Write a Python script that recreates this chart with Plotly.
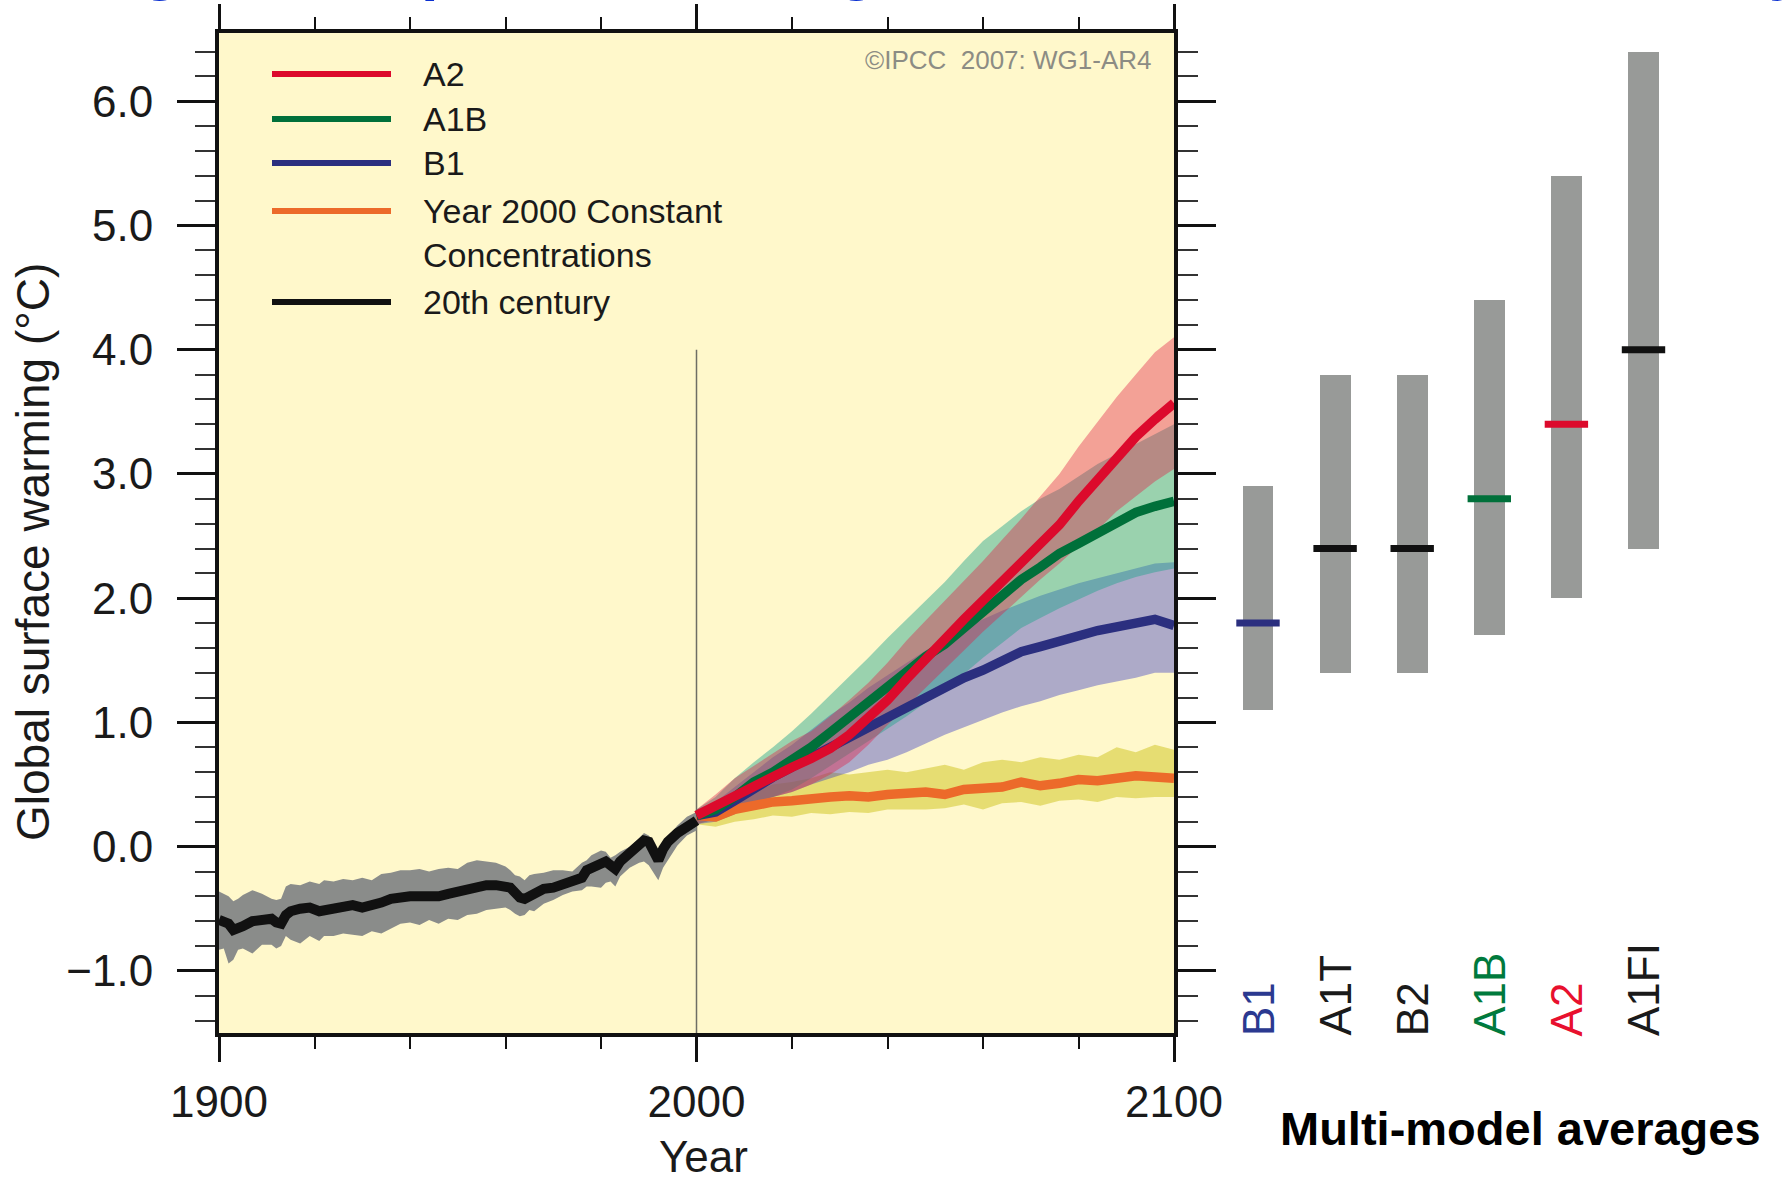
import plotly.graph_objects as go

# ---------------- data ----------------
years_20c = [1900,1901,1902,1903,1904,1905,1907,1909,1911,1912,1913,1914,1915,1917,1919,1921,1922,1924,1926,1928,
             1930,1932,1934,1936,1938,1940,1942,1944,1946,1948,1950,1952,1954,1956,1958,1960,1961,1962,1963,1964,
             1965,1966,1968,1970,1972,1974,1976,1977,1978,1980,1981,1982,1983,1984,1986,1988,1989,1990,1991,1992,
             1993,1994,1996,1998,2000]
mean_20c = [-0.59,-0.60,-0.62,-0.67,-0.66,-0.64,-0.60,-0.58,-0.58,-0.61,
            -0.62,-0.55,-0.52,-0.50,-0.49,-0.52,-0.51,-0.49,-0.47,-0.47,
            -0.49,-0.48,-0.45,-0.42,-0.40,-0.40,-0.40,-0.41,-0.40,-0.38,
            -0.36,-0.34,-0.32,-0.31,-0.31,-0.32,-0.33,-0.37,-0.41,-0.42,
            -0.40,-0.36,-0.34,-0.33,-0.31,-0.28,-0.25,-0.19,-0.17,-0.13,
            -0.12,-0.15,-0.18,-0.12,-0.05,0.02,0.05,0.04,-0.05,-0.11,
            -0.02,0.04,0.11,0.17,0.21]
upper_20c = [-0.36,-0.38,-0.40,-0.44,-0.42,-0.39,-0.35,-0.38,-0.42,-0.43,
             -0.42,-0.32,-0.30,-0.31,-0.28,-0.30,-0.27,-0.28,-0.26,-0.27,
             -0.25,-0.27,-0.22,-0.21,-0.19,-0.19,-0.18,-0.20,-0.18,-0.17,
             -0.18,-0.13,-0.11,-0.12,-0.13,-0.16,-0.19,-0.23,-0.24,-0.27,
             -0.23,-0.22,-0.21,-0.19,-0.19,-0.20,-0.13,-0.11,-0.07,-0.03,
             -0.04,-0.09,-0.07,-0.04,0.00,0.07,0.11,0.09,0.04,-0.04,
             0.03,0.08,0.17,0.24,0.28]
lower_20c = [-0.83,-0.82,-0.94,-0.91,-0.83,-0.82,-0.86,-0.79,-0.79,-0.82,
             -0.80,-0.72,-0.75,-0.78,-0.72,-0.76,-0.72,-0.72,-0.70,-0.71,
             -0.72,-0.68,-0.70,-0.66,-0.62,-0.61,-0.63,-0.59,-0.62,-0.58,
             -0.59,-0.55,-0.54,-0.51,-0.50,-0.49,-0.51,-0.54,-0.56,-0.55,
             -0.51,-0.52,-0.46,-0.43,-0.39,-0.36,-0.35,-0.32,-0.32,-0.33,
             -0.29,-0.28,-0.32,-0.24,-0.17,-0.13,-0.12,-0.15,-0.21,-0.27,
             -0.17,-0.11,0.01,0.09,0.13]

years_proj = [2000,2004,2008,2012,2016,2020,2024,2028,2032,2036,2040,2044,2048,
              2052,2056,2060,2064,2068,2072,2076,2080,2084,2088,2092,2096,2100]

a2_mean  = [0.25,0.33,0.42,0.50,0.57,0.64,0.71,0.79,0.90,1.04,1.18,1.35,1.52,
            1.67,1.83,1.98,2.13,2.28,2.44,2.59,2.78,2.96,3.14,3.30,3.44,3.57]
a2_upper = [0.30,0.42,0.55,0.65,0.75,0.85,0.93,1.05,1.18,1.32,1.48,1.66,1.82,
            1.98,2.14,2.30,2.47,2.64,2.82,3.00,3.22,3.42,3.62,3.80,3.98,4.10]
a2_lower = [0.18,0.22,0.28,0.35,0.40,0.44,0.50,0.58,0.68,0.82,0.98,1.13,1.28,
            1.43,1.58,1.73,1.87,2.01,2.15,2.28,2.42,2.55,2.70,2.82,2.94,3.04]

a1b_mean  = [0.25,0.30,0.40,0.52,0.60,0.69,0.80,0.92,1.04,1.18,1.30,1.40,1.53,
             1.63,1.76,1.88,2.03,2.15,2.25,2.36,2.44,2.52,2.61,2.69,2.74,2.78]
a1b_upper = [0.30,0.40,0.55,0.68,0.80,0.93,1.07,1.22,1.37,1.52,1.68,1.83,1.98,
             2.13,2.30,2.46,2.58,2.70,2.80,2.88,2.98,3.08,3.16,3.24,3.32,3.40]
a1b_lower = [0.18,0.22,0.28,0.36,0.40,0.46,0.55,0.65,0.75,0.85,0.95,1.05,1.16,
             1.27,1.39,1.52,1.64,1.76,1.84,1.92,1.99,2.06,2.12,2.17,2.21,2.24]

b1_mean  = [0.25,0.28,0.37,0.47,0.56,0.64,0.72,0.80,0.87,0.95,1.03,1.11,1.21,
            1.28,1.36,1.42,1.49,1.57,1.61,1.66,1.70,1.74,1.77,1.80,1.83,1.78]
b1_upper = [0.30,0.36,0.48,0.60,0.72,0.82,0.94,1.06,1.16,1.28,1.38,1.48,1.58,
            1.67,1.75,1.83,1.90,1.96,2.02,2.07,2.12,2.16,2.20,2.24,2.28,2.29]
b1_lower = [0.18,0.20,0.26,0.33,0.40,0.44,0.50,0.55,0.60,0.66,0.70,0.76,0.83,
            0.90,0.96,1.02,1.08,1.13,1.17,1.22,1.26,1.30,1.33,1.36,1.40,1.40]

const_mean  = [0.25,0.24,0.30,0.33,0.36,0.37,0.39,0.40,0.41,0.40,0.42,0.43,0.44,
               0.42,0.46,0.47,0.48,0.52,0.49,0.51,0.54,0.53,0.55,0.57,0.56,0.55]
const_upper = [0.30,0.32,0.40,0.44,0.50,0.52,0.55,0.60,0.58,0.60,0.62,0.60,0.63,
               0.66,0.62,0.68,0.70,0.68,0.72,0.70,0.74,0.72,0.80,0.76,0.82,0.78]
const_lower = [0.18,0.16,0.20,0.22,0.25,0.24,0.27,0.26,0.28,0.27,0.30,0.30,0.30,
               0.31,0.34,0.30,0.35,0.36,0.33,0.37,0.38,0.36,0.40,0.39,0.40,0.40]

scenarios      = ["B1", "A1T", "B2", "A1B", "A2", "A1FI"]
scen_best      = [1.8, 2.4, 2.4, 2.8, 3.4, 4.0]
scen_low       = [1.1, 1.4, 1.4, 1.7, 2.0, 2.4]
scen_high      = [2.9, 3.8, 3.8, 4.4, 5.4, 6.4]
scen_colors    = ["#2B2F7F", "#111111", "#111111", "#00703A", "#DC0A2C", "#111111"]
scen_lbl_color = ["#2B3990", "#1a1a1a", "#1a1a1a", "#007A3D", "#E8102E", "#1a1a1a"]

legend_items = [("A2", "#DC0A2C"), ("A1B", "#00703A"), ("B1", "#2B2F7F"),
                ("Year 2000 Constant<br>Concentrations", "#EC6A2A"), ("20th century", "#111111")]

divider_year, divider_top = 2000, 4.0

# ---------------- layout geometry (pixels) ----------------
W, H = 1783, 1183
L, R, T, B = 219, 0, 33, 150
PW = W - L - R
PH = H - T - B
left_right_px = 1174
x1_dom = (left_right_px - L) / PW
p2_left_px = 1190
first_cat_px, cat_step_px = 1258, 77.1
x2_range = [(p2_left_px - first_cat_px) / cat_step_px, (W - R - first_cat_px) / cat_step_px]

FONT = "Liberation Sans, Arial, Helvetica, sans-serif"
TXT = "#1a1a1a"

def px_to_paper_x(px):
    return (px - L) / PW

def py_to_paper_y(py):
    return (T + PH - py) / PH

def px_to_dom_x(px):
    return (px - L) / (left_right_px - L)

fig = go.Figure()

def band(x, up, lo, color):
    fig.add_trace(go.Scatter(x=list(x) + list(x)[::-1], y=list(up) + list(lo)[::-1],
                             fill="toself", fillcolor=color, line=dict(width=0),
                             mode="lines", hoverinfo="skip", showlegend=False,
                             xaxis="x", yaxis="y"))

band(years_20c, upper_20c, lower_20c, "#8a8c8a")
band(years_proj, const_upper, const_lower, "rgba(215,205,60,0.62)")
band(years_proj, b1_upper, b1_lower, "rgba(50,53,195,0.40)")
band(years_proj, a1b_upper, a1b_lower, "rgba(30,165,140,0.45)")
band(years_proj, a2_upper, a2_lower, "rgba(225,30,70,0.40)")

def line(x, y, color, w=9.5):
    fig.add_trace(go.Scatter(x=x, y=y, mode="lines", line=dict(color=color, width=w),
                             showlegend=False, hoverinfo="skip", xaxis="x", yaxis="y"))

line(years_proj, const_mean, "#EC6A2A")
line(years_proj, b1_mean, "#2B2F7F")
line(years_proj, a1b_mean, "#00703A")
line(years_proj, a2_mean, "#DC0A2C")
line(years_20c, mean_20c, "#111111", 10)

# right panel: likely ranges and best estimates
cat_pos = list(range(len(scenarios)))
fig.add_trace(go.Bar(x=cat_pos, y=[h - l for h, l in zip(scen_high, scen_low)], base=scen_low,
                     width=0.4, marker=dict(color="#989a98", line=dict(width=0)),
                     showlegend=False, hoverinfo="skip", xaxis="x2", yaxis="y"))
fig.add_trace(go.Scatter(x=cat_pos, y=scen_best, mode="markers",
                         marker=dict(symbol="line-ew", size=31,
                                     line=dict(width=7, color=scen_colors)),
                         showlegend=False, hoverinfo="skip", xaxis="x2", yaxis="y"))

shapes = [
    dict(type="rect", xref="x domain", yref="y domain", x0=0, x1=1, y0=0, y1=1,
         fillcolor="#FFF8CB", line=dict(width=0), layer="below"),
    dict(type="line", xref="x", yref="y", x0=divider_year, x1=divider_year, y0=-1.5, y1=divider_top,
         line=dict(color="#6e6e64", width=1.5), layer="below"),
]

annotations = []
# legend (drawn manually to match long sample lines)
leg_line_y = [74, 119, 163, 211, 302]
leg_text_y = [74, 119, 163, 233, 302]
for (label, col), ly, ty in zip(legend_items, leg_line_y, leg_text_y):
    shapes.append(dict(type="line", xref="x domain", yref="y domain",
                       x0=px_to_dom_x(272), x1=px_to_dom_x(391),
                       y0=py_to_paper_y(ly), y1=py_to_paper_y(ly),
                       line=dict(color=col, width=6)))
    annotations.append(dict(xref="x domain", yref="y domain", x=px_to_dom_x(421), y=py_to_paper_y(ty),
                            text=label, showarrow=False, xanchor="left", yanchor="middle", align="left",
                            font=dict(family=FONT, size=34, color=TXT)))

annotations.append(dict(xref="x domain", yref="y domain", x=px_to_dom_x(1153), y=py_to_paper_y(60),
                        text="©IPCC  2007: WG1-AR4", showarrow=False, xanchor="right", yanchor="middle",
                        font=dict(family=FONT, size=26, color="#8c8c84")))

# scenario labels
for i, (s, c) in enumerate(zip(scenarios, scen_lbl_color)):
    annotations.append(dict(xref="x2", yref="paper", x=i, y=py_to_paper_y(1038), text=s,
                            textangle=-90, showarrow=False, xanchor="center", yanchor="bottom",
                            font=dict(family=FONT, size=44, color=c)))

annotations.append(dict(xref="paper", yref="paper", x=px_to_paper_x(1520), y=py_to_paper_y(1128),
                        text="<b>Multi-model averages</b>", showarrow=False,
                        xanchor="center", yanchor="middle",
                        font=dict(family=FONT, size=47, color="#000000")))

annotations.append(dict(xref="paper", yref="paper", x=px_to_paper_x(703), y=py_to_paper_y(1182),
                        text="Year", showarrow=False, xanchor="center", yanchor="bottom", borderpad=0,
                        font=dict(family=FONT, size=44, color=TXT)))

annotations.append(dict(xref="paper", yref="paper", x=px_to_paper_x(33), y=py_to_paper_y(552),
                        text="Global surface warming (°C)", textangle=-90, showarrow=False,
                        xanchor="center", yanchor="middle",
                        font=dict(family=FONT, size=46, color=TXT)))

# slide title, mostly cut off at the top edge (as in the source)
annotations.append(dict(xref="paper", yref="paper", x=px_to_paper_x(20), y=py_to_paper_y(-34),
                        text="<b>Range of temperature change at the end of the 21st century</b>",
                        showarrow=False, xanchor="left", yanchor="middle",
                        font=dict(family=FONT, size=63, color="#0A2FD0")))

fig.update_layout(
    width=W, height=H, autosize=False,
    margin=dict(l=L, r=R, t=T, b=B, pad=0, autoexpand=False),
    paper_bgcolor="white", plot_bgcolor="white",
    showlegend=False, bargap=0,
    shapes=shapes, annotations=annotations,
    xaxis=dict(domain=[0, x1_dom], range=[1900, 2100], anchor="y", automargin=False,
               showline=True, linewidth=4, linecolor="#111111", mirror="ticks",
               ticks="outside", ticklen=25, tickwidth=3, tickcolor="#111111",
               tickvals=[1900, 2000, 2100], ticktext=["1900", "2000", "2100"],
               minor=dict(dtick=20, tick0=1900, ticks="outside", ticklen=12, tickwidth=2,
                          tickcolor="#111111", showgrid=False),
               tickfont=dict(family=FONT, size=44, color=TXT), ticklabelstandoff=2,
               showgrid=False, zeroline=False),
    yaxis=dict(domain=[0, 1], range=[-1.5, 6.55], anchor="x", automargin=False,
               showline=True, linewidth=4, linecolor="#111111", mirror="ticks",
               ticks="outside", ticklen=38, tickwidth=3, tickcolor="#111111",
               dtick=1, tick0=0, tickformat=".1f",
               minor=dict(dtick=0.2, tick0=0, ticks="outside", ticklen=20, tickwidth=2,
                          tickcolor="#333333", showgrid=False),
               tickfont=dict(family=FONT, size=44, color=TXT), ticklabelstandoff=15,
               showgrid=False, zeroline=False),
    xaxis2=dict(domain=[px_to_paper_x(p2_left_px), 1], range=x2_range, anchor="y", automargin=False,
                showline=False, showticklabels=False, ticks="", showgrid=False, zeroline=False),
)

fig.write_html("out.html", config={"displayModeBar": False})
